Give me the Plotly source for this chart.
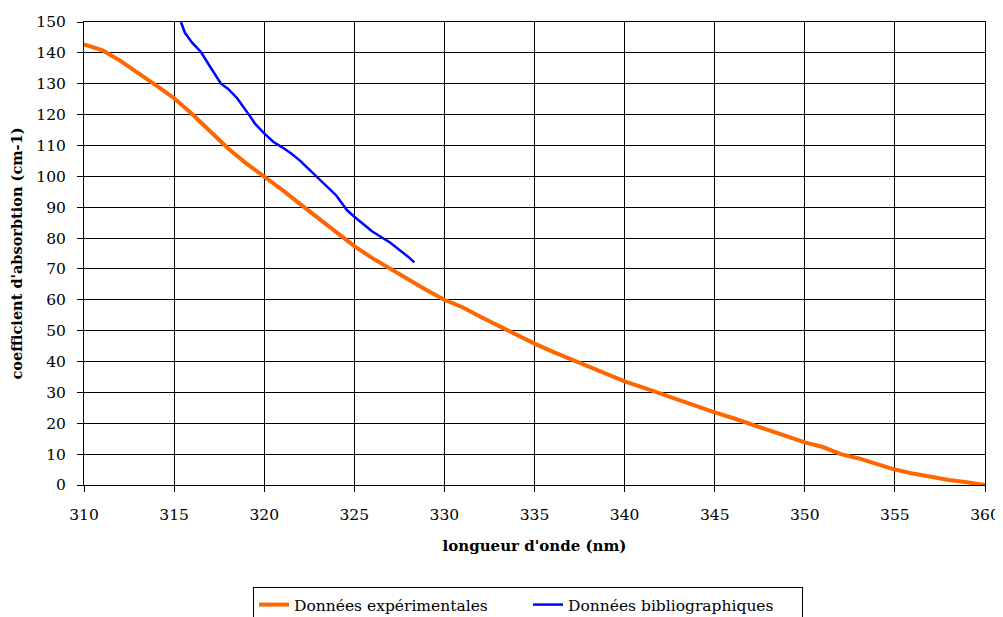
import plotly.graph_objects as go

exp_x = [310, 311, 312, 313, 314, 315, 316, 317, 318, 319, 320, 321, 322, 323, 324, 325,
         326, 327, 328, 329, 330, 331, 332, 333, 334, 335, 336, 337, 338, 339, 340, 341,
         342, 343, 344, 345, 346, 347, 348, 349, 350, 351, 352, 353, 354, 355, 356, 357,
         358, 359, 360]
exp_y = [142.7, 140.9, 137.5, 133.6, 129.5, 125.3, 120.2, 114.6, 109.0, 104.2, 100.0, 95.6,
         91.0, 86.4, 81.8, 77.4, 73.5, 70.0, 66.6, 63.2, 60.0, 57.6, 54.5, 51.5, 48.6, 45.8,
         43.2, 40.8, 38.4, 36.0, 33.6, 31.6, 29.5, 27.5, 25.5, 23.5, 21.7, 19.8, 17.9, 15.9,
         13.8, 12.3, 10.0, 8.6, 6.7, 5.0, 3.7, 2.5, 1.6, 0.9, 0.0]

bib_x = [315.38, 315.6, 316.0, 316.5, 317.0, 317.6, 318.0, 318.5, 319.15, 319.5, 320.0,
         320.5, 321.0, 321.5, 322.0, 323.0, 324.0, 324.6, 325.0, 326.0, 327.0, 328.0, 328.33]
bib_y = [150.0, 146.5, 143.3, 140.2, 135.5, 130.0, 128.3, 125.3, 120.0, 117.0, 113.9,
         111.2, 109.4, 107.4, 105.0, 99.5, 93.8, 89.0, 86.9, 82.1, 78.5, 73.9, 72.1]

x_ticks = list(range(310, 361, 5))
y_ticks = list(range(0, 151, 10))

FONT = "DejaVu Serif"

fig = go.Figure()
fig.add_trace(go.Scatter(x=exp_x, y=exp_y, mode="lines", name="Données expérimentales",
                         line=dict(color="#FF6600", width=4)))
fig.add_trace(go.Scatter(x=bib_x, y=bib_y, mode="lines", name="Données bibliographiques",
                         line=dict(color="#0000FF", width=2.5)))

axis_common = dict(showgrid=True, gridcolor="black", gridwidth=1,
                   showline=True, linecolor="black", linewidth=1, mirror=True,
                   ticks="outside", ticklen=6, tickcolor="black", zeroline=False,
                   tickfont=dict(family=FONT, size=15.5, color="black"))

fig.update_xaxes(range=[310, 360], tickvals=x_ticks, **axis_common, ticklabelstandoff=9,
                 title=dict(text="<b>longueur d'onde (nm)</b>", standoff=17,
                            font=dict(family=FONT, size=15, color="black")))
fig.update_yaxes(range=[0, 150], tickvals=y_ticks, **axis_common, ticklabelstandoff=8,
                 title=dict(text="<b>coefficient d'absorbtion (cm-1)</b>", standoff=10,
                            font=dict(family=FONT, size=14.5, color="black")))

fig.update_layout(
    width=995, height=609,
    margin=dict(l=76, r=18, t=14, b=132, autoexpand=False),
    paper_bgcolor="white", plot_bgcolor="white",
    font=dict(family=FONT, size=15, color="black"),
    showlegend=True,
    legend=dict(orientation="h", x=0.1876, y=-0.2203, xanchor="left", yanchor="top",
                bordercolor="black", borderwidth=1, font=dict(family=FONT, size=15.5),
                itemwidth=30, entrywidth=229, tracegroupgap=0),
)

fig.write_html("out.html")
